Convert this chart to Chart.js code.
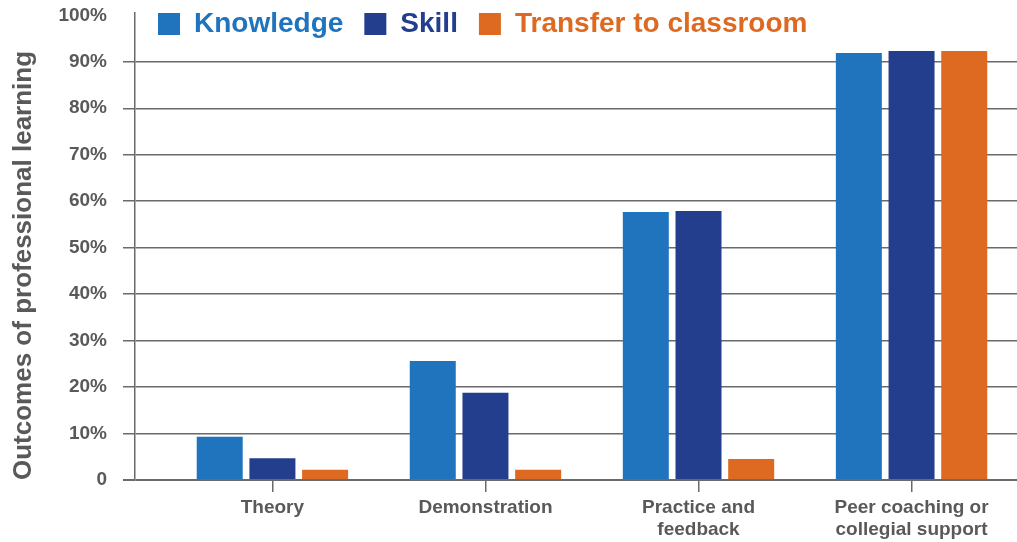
<!DOCTYPE html>
<html>
<head>
<meta charset="utf-8">
<script src="https://cdn.jsdelivr.net/npm/chart.js@4.4.1/dist/chart.umd.min.js"></script>
<style>
  html, body { margin: 0; padding: 0; background: #fff; }
  #wrap { width: 1017px; height: 542px; position: relative; }
</style>
</head>
<body>
<div id="wrap"><canvas id="chart"></canvas></div>
<script>
// data
const categories = ['Theory', 'Demonstration', ['Practice and', 'feedback'], ['Peer coaching or', 'collegial support']];
const seriesNames = ['Knowledge', 'Skill', 'Transfer to classroom'];
const knowledge = [9.3, 25.6, 57.7, 91.9];
const skill = [4.7, 18.8, 57.9, 92.3];
const transfer = [2.2, 2.2, 4.5, 92.3];
const yTicks = [0, 10, 20, 30, 40, 50, 60, 70, 80, 90, 100];

const colors = ['#1f74bd', '#243e8e', '#de6920'];
const textGray = '#595959';
const gridGray = '#6a6a6a';

Chart.defaults.font.family = "'Liberation Sans', Arial, sans-serif";
Chart.defaults.font.weight = 'bold';

// category positions on a linear x axis (1..n) so the y axis can sit left of the first band
const toPoints = (values) => values.map((v, i) => ({ x: i + 1, y: v }));

// legend floats over the plot instead of taking a row of its own
const overlayLegend = {
  id: 'overlayLegend',
  beforeInit(chart) {
    const fit = chart.legend.fit;
    chart.legend.fit = function () {
      fit.call(this);
      this.height = 0;
    };
  },
  afterLayout(chart) {
    chart.legend.left = 137;
    chart.legend.top = -11;
    chart.legend.bottom = 60;
  }
};

new Chart(document.getElementById('chart'), {
  type: 'bar',
  data: {
    datasets: [
      { label: seriesNames[0], data: toPoints(knowledge), backgroundColor: colors[0] },
      { label: seriesNames[1], data: toPoints(skill), backgroundColor: colors[1] },
      { label: seriesNames[2], data: toPoints(transfer), backgroundColor: colors[2] }
    ]
  },
  options: {
    responsive: true,
    maintainAspectRatio: false,
    animation: false,
    categoryPercentage: 0.742,
    barPercentage: 0.873,
    layout: { padding: { top: 13, right: 0, bottom: 0, left: 0 } },
    plugins: {
      tooltip: { enabled: false },
      legend: {
        position: 'top',
        align: 'start',
        labels: {
          boxWidth: 22,
          boxHeight: 22,
          padding: 21,
          font: { size: 28, weight: 'bold' },
          generateLabels: (chart) => chart.data.datasets.map((ds, i) => ({
            text: ds.label,
            fillStyle: ds.backgroundColor,
            strokeStyle: ds.backgroundColor,
            fontColor: ds.backgroundColor,
            lineWidth: 0,
            hidden: !chart.isDatasetVisible(i),
            datasetIndex: i
          }))
        }
      }
    },
    scales: {
      x: {
        type: 'linear',
        offset: false,
        min: 0.355,
        max: 4.495,
        afterBuildTicks: (scale) => {
          scale.ticks = categories.map((c, i) => ({ value: i + 1 }));
        },
        afterFit: (scale) => { scale.height = 62; },
        grid: {
          offset: false,
          drawOnChartArea: false,
          drawTicks: true,
          tickLength: 12,
          color: gridGray,
          lineWidth: 1.5
        },
        border: { display: false },
        ticks: {
          autoSkip: false,
          maxRotation: 0,
          padding: 4,
          color: textGray,
          font: { size: 19, weight: 'bold', lineHeight: 1.2 },
          callback: (value) => categories[value - 1]
        }
      },
      y: {
        min: 0,
        max: 100.5,
        afterBuildTicks: (scale) => {
          scale.ticks = yTicks.map((v) => ({ value: v }));
        },
        afterFit: (scale) => {
          scale.width = 135;
          scale.paddingTop = 0;
          scale.paddingBottom = 0;
        },
        grid: {
          drawTicks: true,
          tickLength: 12,
          color: (ctx) => (ctx.tick && ctx.tick.value === 100 ? 'rgba(0,0,0,0)' : gridGray),
          lineWidth: (ctx) => (ctx.tick && ctx.tick.value === 0 ? 2 : 1.5)
        },
        border: { display: true, color: gridGray, width: 1.5 },
        ticks: {
          padding: 16,
          color: textGray,
          font: { size: 19, weight: 'bold', lineHeight: 1 },
          callback: (value) => (value === 0 ? '0' : value + '%')
        },
        title: {
          display: true,
          text: 'Outcomes of professional learning',
          align: 'start',
          color: textGray,
          font: { size: 26, weight: 'bold' },
          padding: { top: 8, bottom: 0 }
        }
      }
    }
  },
  plugins: [overlayLegend]
});
</script>
</body>
</html>
